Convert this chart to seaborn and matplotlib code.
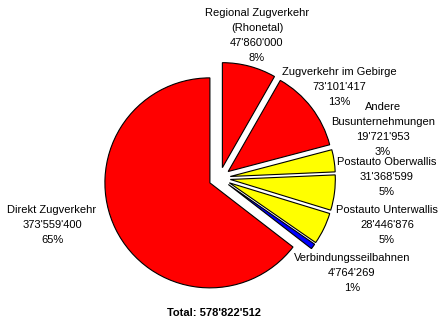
import matplotlib
matplotlib.use("Agg")
import matplotlib.pyplot as plt
import seaborn as sns

# ---- data ----
categories = [
    "Regional Zugverkehr\n(Rhonetal)",
    "Zugverkehr im Gebirge",
    "Andere\nBusunternehmungen",
    "Postauto Oberwallis",
    "Postauto Unterwallis",
    "Verbindungsseilbahnen",
    "Direkt Zugverkehr",
]
values = [47860000, 73101417, 19721953, 31368599, 28446876, 4764269, 373559400]
total = 578822512
slice_colors = ["#FF0000", "#FF0000", "#FFFF00", "#FFFF00", "#FFFF00", "#0000FF", "#FF0000"]

# ---- layout (pixels, origin bottom-left) ----
W, H = 447, 326
center = (219.6, H - 178.1)
radius = 105
explode_px = 10.8
label_pos = [
    (257, H - 35.5),
    (339, H - 87),
    (383, H - 129.5),
    (387, H - 177),
    (387, H - 225),
    (352, H - 273),
    (52, H - 225),
]

sns.set_theme(style="white")
plt.rcParams["font.family"] = ["Liberation Sans", "DejaVu Sans"]

fig = plt.figure(figsize=(W / 100, H / 100), dpi=100)
ax = fig.add_axes([0, 0, 1, 1])

ax.pie(
    values,
    colors=slice_colors,
    startangle=90,
    counterclock=False,
    explode=[explode_px] * len(values),
    center=center,
    radius=radius,
    wedgeprops=dict(edgecolor="black", linewidth=0.8),
    frame=False,
)

def fmt(v):
    return f"{v:,}".replace(",", "'")

for cat, v, (x, y) in zip(categories, values, label_pos):
    pct = round(100 * v / total)
    ax.text(x, y, f"{cat}\n{fmt(v)}\n{pct}%", ha="center", va="center",
            fontsize=8, color="black", linespacing=1.6)

ax.text(214, H - 313, f"Total: {fmt(total)}", ha="center", va="center",
        fontsize=8, fontweight="bold", color="black")

ax.set_xlim(0, W)
ax.set_ylim(0, H)
ax.set_aspect("auto")
ax.axis("off")

fig.savefig("out.png", dpi=100, facecolor="white")
